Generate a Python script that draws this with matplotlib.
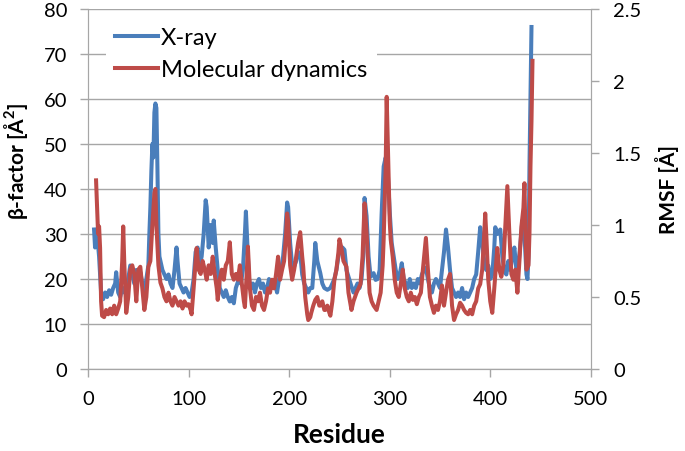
import numpy as np
import matplotlib
matplotlib.use('Agg')
import matplotlib.pyplot as plt

plt.rcParams['font.family'] = ['Lato', 'DejaVu Sans']

# X-ray B-factors (residue, beta-factor in A^2)
xray_res = [6, 7, 9, 11, 13, 15, 17, 19, 21, 23, 25, 27, 28, 30, 32, 34, 36, 38, 40, 42,
            44, 46, 48, 50, 52, 54, 56, 58, 60, 61, 62, 63, 64, 65, 66, 67, 68, 69, 70, 71,
            72, 74, 76, 78, 80, 82, 84, 86, 88, 89, 91, 93, 95, 97, 99, 101, 103, 105, 107, 109,
            111, 113, 115, 117, 118, 120, 122, 124, 125, 127, 129, 131, 133, 135, 137, 139, 141, 143, 145, 147,
            150, 152, 154, 156, 157, 158, 160, 162, 164, 166, 168, 170, 172, 174, 176, 178, 180, 183, 186, 188,
            190, 192, 194, 196, 198, 199, 201, 203, 205, 207, 209, 211, 213, 215, 217, 219, 221, 223, 225, 226,
            228, 231, 233, 235, 238, 241, 243, 245, 247, 249, 251, 253, 255, 257, 260, 262, 264, 266, 268, 270,
            272, 274, 275, 277, 279, 281, 284, 286, 288, 290, 292, 294, 296, 298, 300, 302, 304, 306, 308, 310,
            312, 314, 316, 318, 320, 322, 324, 326, 328, 330, 332, 334, 336, 338, 340, 342, 344, 346, 348, 350,
            352, 354, 356, 358, 360, 362, 364, 366, 368, 370, 372, 374, 376, 378, 380, 382, 384, 386, 388, 390,
            392, 394, 396, 398, 400, 402, 404, 405, 407, 410, 412, 414, 416, 418, 420, 422, 424, 426, 428, 430,
            432, 434, 436, 437, 438, 439, 440, 441]
xray_bf = [31, 27, 30, 25, 17, 15.5, 17, 16, 17.5, 16.5, 18, 19, 21.5, 17, 16, 18, 17, 19, 20, 23,
           21, 19, 22, 20, 21.5, 19, 17, 20, 23, 30, 36, 44, 50, 47, 57, 59, 58, 45, 30, 25,
           24, 22, 21, 20, 21, 19, 18, 22, 27, 24, 19, 18, 17, 18, 17, 16, 17, 20, 26, 27,
           23, 25, 30, 37.5, 36, 27, 32, 28, 33, 27, 22, 18, 17, 16, 17.5, 16, 15, 16, 14.6, 18,
           20, 19, 22, 30, 35, 30, 20, 18, 19, 17, 19, 20, 18, 19, 17, 18, 20, 18, 19, 17,
           20, 22, 25, 30, 37, 36, 28, 23, 22.8, 24, 26, 25.7, 21, 19, 18, 17, 18, 18, 24, 28,
           24, 21.3, 19, 18, 17.6, 18, 19, 20, 22, 25, 27, 27, 26.5, 22, 19.8, 18.3, 17, 18, 19, 18,
           20, 26, 38, 34, 25, 20.5, 21.3, 19.8, 20, 22, 34.6, 45, 47, 44, 35, 28, 25, 22, 20, 21,
           23.5, 20, 19, 18, 20, 18, 19, 18, 20, 19, 21, 22, 22.5, 20, 18, 17, 19, 20, 19, 18,
           22, 26, 31, 27, 22, 18, 17, 16, 17, 16, 18, 15.5, 17, 16, 17, 18, 20, 21, 26, 31.5,
           28, 24, 22, 23, 20, 21, 27, 31.5, 30, 31, 25, 22, 21, 24, 22, 25, 27, 22, 23, 28,
           33, 30, 21, 20, 25, 45, 60, 76]

# MD RMSF (residue, RMSF in A)
md_res = [8, 9, 10, 11, 12, 13, 14, 16, 18, 20, 22, 24, 26, 28, 30, 32, 34, 35, 36, 38,
          40, 42, 44, 46, 48, 50, 52, 54, 56, 58, 60, 62, 64, 66, 67, 68, 70, 72, 74, 76,
          78, 80, 82, 84, 86, 88, 90, 92, 94, 96, 98, 100, 102, 103, 105, 107, 108, 110, 112, 114,
          116, 118, 120, 122, 124, 126, 128, 129, 131, 133, 135, 137, 139, 141, 143, 145, 147, 149, 151, 153,
          155, 156, 158, 159, 161, 163, 165, 167, 169, 171, 173, 175, 177, 179, 181, 183, 185, 187, 189, 191,
          193, 195, 197, 198, 199, 201, 203, 205, 207, 209, 211, 213, 214, 216, 218, 219, 221, 222, 224, 226,
          228, 230, 231, 233, 235, 236, 238, 240, 241, 243, 245, 247, 249, 250, 252, 254, 257, 259, 262, 264,
          267, 269, 271, 273, 275, 277, 279, 280, 282, 284, 287, 289, 291, 293, 294, 296, 297, 298, 300, 301,
          303, 305, 307, 309, 311, 313, 315, 317, 319, 321, 323, 325, 327, 329, 331, 333, 335, 336, 338, 340,
          342, 344, 346, 348, 350, 352, 354, 356, 358, 360, 362, 364, 366, 368, 370, 372, 374, 376, 378, 380,
          382, 384, 386, 388, 390, 392, 394, 395, 396, 398, 400, 402, 404, 406, 407, 409, 411, 413, 415, 417,
          419, 421, 423, 425, 427, 429, 431, 433, 434, 435, 436, 438, 439, 440, 441, 442]
md_rmsf = [1.31, 1.12, 0.94, 0.99, 0.84, 0.47, 0.37, 0.36, 0.41, 0.38, 0.42, 0.38, 0.44, 0.38, 0.42, 0.47, 0.75, 0.99, 0.75, 0.39,
           0.50, 0.69, 0.72, 0.66, 0.47, 0.69, 0.71, 0.56, 0.41, 0.50, 0.71, 0.75, 1.00, 1.22, 1.25, 1.00, 0.72, 0.60, 0.56, 0.50,
           0.47, 0.53, 0.47, 0.44, 0.50, 0.47, 0.44, 0.47, 0.42, 0.47, 0.44, 0.45, 0.41, 0.38, 0.56, 0.75, 0.84, 0.69, 0.66, 0.75,
           0.69, 0.62, 0.72, 0.66, 0.78, 0.66, 0.56, 0.48, 0.62, 0.69, 0.62, 0.72, 0.75, 0.88, 0.66, 0.62, 0.66, 0.62, 0.72, 0.59,
           0.47, 0.43, 0.69, 0.85, 0.56, 0.44, 0.41, 0.50, 0.47, 0.53, 0.44, 0.41, 0.47, 0.56, 0.53, 0.62, 0.56, 0.66, 0.78, 0.62,
           0.69, 0.75, 0.94, 1.08, 1.03, 0.72, 0.62, 0.69, 0.78, 0.88, 0.95, 0.78, 0.71, 0.50, 0.38, 0.34, 0.36, 0.39, 0.44, 0.48,
           0.50, 0.44, 0.44, 0.47, 0.41, 0.41, 0.44, 0.39, 0.37, 0.47, 0.62, 0.69, 0.81, 0.90, 0.84, 0.75, 0.71, 0.53, 0.41, 0.47,
           0.53, 0.56, 0.59, 0.78, 1.15, 0.95, 0.66, 0.53, 0.47, 0.44, 0.41, 0.47, 0.53, 0.72, 0.90, 1.40, 1.89, 1.60, 1.03, 0.90,
           0.78, 0.62, 0.53, 0.50, 0.59, 0.69, 0.56, 0.50, 0.47, 0.53, 0.48, 0.50, 0.45, 0.50, 0.53, 0.69, 0.84, 0.91, 0.69, 0.50,
           0.44, 0.39, 0.44, 0.41, 0.47, 0.58, 0.44, 0.53, 0.62, 0.66, 0.44, 0.34, 0.38, 0.41, 0.46, 0.44, 0.41, 0.39, 0.38, 0.41,
           0.38, 0.44, 0.47, 0.56, 0.59, 0.69, 0.94, 1.08, 0.94, 0.62, 0.47, 0.39, 0.56, 0.75, 0.84, 0.69, 0.64, 0.72, 1.00, 1.27,
           0.94, 0.66, 0.62, 0.69, 0.53, 0.75, 0.99, 1.12, 1.29, 0.94, 0.69, 0.72, 0.94, 1.41, 1.72, 2.14]

blue = '#4a7ebb'
red = '#be4b48'
grey = '#a6a6a6'

fig = plt.figure(figsize=(6.85, 4.52), dpi=100)
ax = fig.add_axes([0.1285, 0.1814, 0.734, 0.7965])
ax2 = ax.twinx()

l1, = ax.plot(xray_res, xray_bf, color=blue, lw=2.9, label='X-ray')
l2, = ax2.plot(md_res, md_rmsf, color=red, lw=2.9, label='Molecular dynamics')

ax.set_xlim(0, 500)
ax.set_ylim(0, 80)
ax2.set_ylim(0, 2.5)
ax.set_xticks(np.arange(0, 501, 100))
ax.set_yticks(np.arange(0, 81, 10))
ax2.set_yticks([0, 0.5, 1, 1.5, 2, 2.5])
ax2.set_yticklabels(['0', '0.5', '1', '1.5', '2', '2.5'])

ax.yaxis.grid(True, color=grey, lw=1)
ax.set_axisbelow(True)

for a in (ax, ax2):
    for s in a.spines.values():
        s.set_color(grey)
    a.spines['top'].set_visible(False)
    a.tick_params(colors=grey, labelcolor='black', labelsize=14.5, length=6, width=1)
ax.tick_params(axis='x', pad=9)
ax.tick_params(axis='y', pad=9)
ax2.tick_params(axis='y', pad=10)

ax.set_xlabel('Residue', fontsize=19, fontweight='bold', labelpad=11)
ax.set_ylabel('β-factor [Å$^\\mathregular{2}$]', fontsize=15, fontweight='bold')
ax.yaxis.set_label_coords(-0.115, 0.58)
ax2.set_ylabel('RMSF [Å]', fontsize=15, fontweight='bold', labelpad=10)

leg = ax2.legend(handles=[l1, l2], loc='upper left', bbox_to_anchor=(0.035, 0.975), fontsize=17,
                 frameon=True, handlelength=1.8, handletextpad=0.15, borderaxespad=0,
                 borderpad=0.4, labelspacing=0.45)
leg.get_frame().set_edgecolor('none')
leg.get_frame().set_facecolor('white')
leg.get_frame().set_alpha(1)

fig.savefig('out.png', dpi=100)
